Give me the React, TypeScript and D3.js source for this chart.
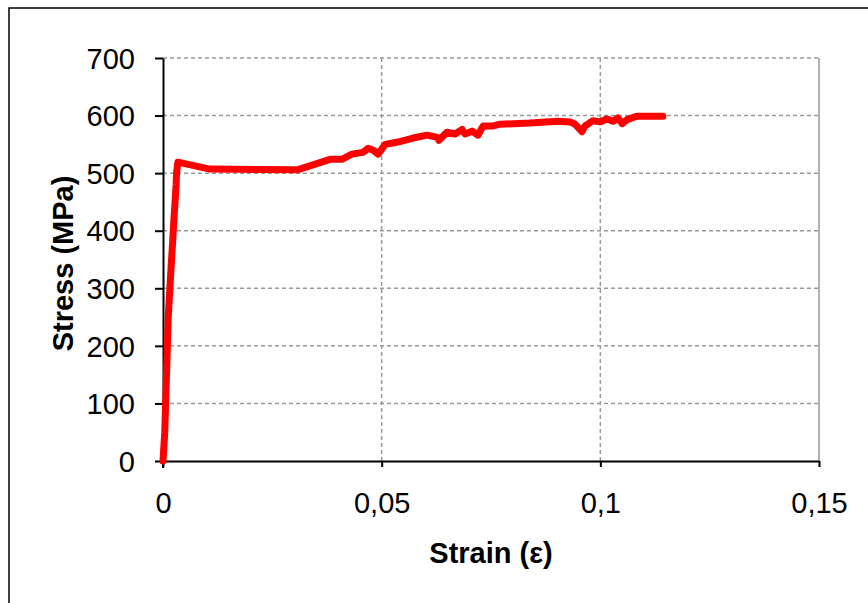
import React, { useEffect, useRef } from "react";
import * as d3 from "d3";

// strain (-) and stress (MPa)
const strain = [
  0, 0.0004, 0.0008, 0.0012, 0.0018, 0.0022, 0.0025, 0.003, 0.0031, 0.0034,
  0.0107, 0.0309, 0.0382, 0.0409, 0.0432, 0.0457, 0.0469, 0.048, 0.0492,
  0.0508, 0.0537, 0.0572, 0.0604, 0.0627, 0.0631, 0.0649, 0.0668, 0.0684,
  0.0691, 0.0707, 0.072, 0.0732, 0.0755, 0.0771, 0.0839, 0.0903, 0.0931,
  0.0942, 0.0958, 0.0965, 0.0983, 0.0999, 0.1015, 0.1029, 0.104, 0.105,
  0.1061, 0.1084, 0.1143,
];
const stress = [
  0, 50, 150, 250, 330, 380, 420, 480, 500, 519,
  507, 506, 524, 524, 533, 536, 543, 540, 533,
  550, 554, 561, 566, 562, 557, 571, 568, 576,
  568, 573, 566, 582, 582, 585, 587, 590, 589,
  585, 572, 582, 591, 589, 594, 590, 596, 586,
  593, 599, 599,
];
const xTicks = [0, 0.05, 0.1, 0.15];
const yTicks = [0, 100, 200, 300, 400, 500, 600, 700];

const W = 868, H = 603;
const plot = { left: 163, right: 819, top: 58, bottom: 461 };
const font = "'Liberation Sans', Arial, sans-serif";

export default function App() {
  const ref = useRef<SVGSVGElement>(null);

  useEffect(() => {
    const svg = d3.select(ref.current);
    svg.selectAll("*").remove();

    const x = d3.scaleLinear().domain([0, 0.15]).range([plot.left, plot.right]);
    const y = d3.scaleLinear().domain([0, 700]).range([plot.bottom, plot.top]);
    const fmt = (d: number) => String(d).replace(".", ",");

    svg.append("rect")
      .attr("width", W).attr("height", H).attr("fill", "#fff");

    // outer chart frame
    svg.append("rect")
      .attr("x", 9).attr("y", 8).attr("width", 900).attr("height", 700)
      .attr("fill", "none").attr("stroke", "#000").attr("stroke-width", 1.5);

    // gridlines
    svg.append("g").selectAll("line")
      .data(yTicks.filter(d => d > 0))
      .join("line")
      .attr("x1", plot.left).attr("x2", plot.right)
      .attr("y1", d => y(d)).attr("y2", d => y(d))
      .attr("stroke", "#999").attr("stroke-width", 1.5)
      .attr("stroke-dasharray", "4,3");

    svg.append("g").selectAll("line")
      .data(xTicks.filter(d => d > 0))
      .join("line")
      .attr("x1", d => x(d)).attr("x2", d => x(d))
      .attr("y1", plot.top).attr("y2", plot.bottom)
      .attr("stroke", "#999").attr("stroke-width", 1.5)
      .attr("stroke-dasharray", d => (d === 0.15 ? null : "4,3"));

    // axes
    const xAxis = svg.append("g")
      .attr("transform", `translate(0,${plot.bottom})`)
      .call(d3.axisBottom(x).tickValues(xTicks).tickFormat(d => fmt(d as number))
        .tickSize(6).tickSizeOuter(0));
    const yAxis = svg.append("g")
      .attr("transform", `translate(${plot.left},0)`)
      .call(d3.axisLeft(y).tickValues(yTicks).tickSize(8).tickSizeOuter(0));

    [xAxis, yAxis].forEach(g => {
      g.selectAll("path, line").attr("stroke", "#000").attr("stroke-width", 2);
      g.selectAll("text")
        .attr("font-family", font).attr("font-size", 29).attr("fill", "#000");
    });
    xAxis.selectAll("text").attr("dy", null).attr("y", 52);
    yAxis.selectAll("text").attr("x", -28).attr("dy", "0.35em");

    // left axis extends slightly below zero
    svg.append("line")
      .attr("x1", plot.left).attr("x2", plot.left)
      .attr("y1", plot.bottom).attr("y2", plot.bottom + 7)
      .attr("stroke", "#000").attr("stroke-width", 2);

    // curve
    const pts = strain.map((s, i) => [s, stress[i]] as [number, number]);
    svg.append("path")
      .datum(pts)
      .attr("fill", "none")
      .attr("stroke", "#ff0000")
      .attr("stroke-width", 7)
      .attr("stroke-linejoin", "round")
      .attr("stroke-linecap", "round")
      .attr("d", d3.line<[number, number]>().x(d => x(d[0])).y(d => y(d[1])));

    // titles
    svg.append("text")
      .attr("x", (plot.left + plot.right) / 2).attr("y", 563)
      .attr("text-anchor", "middle")
      .attr("font-family", font).attr("font-size", 29).attr("font-weight", "bold")
      .text("Strain (ε)");

    svg.append("text")
      .attr("transform", `translate(73,${(plot.top + plot.bottom) / 2 + 4}) rotate(-90)`)
      .attr("text-anchor", "middle")
      .attr("font-family", font).attr("font-size", 29).attr("font-weight", "bold")
      .text("Stress (MPa)");
  }, []);

  return (
    <svg ref={ref} width={W} height={H}
      style={{ position: "absolute", left: 0, top: 0, display: "block" }} />
  );
}
